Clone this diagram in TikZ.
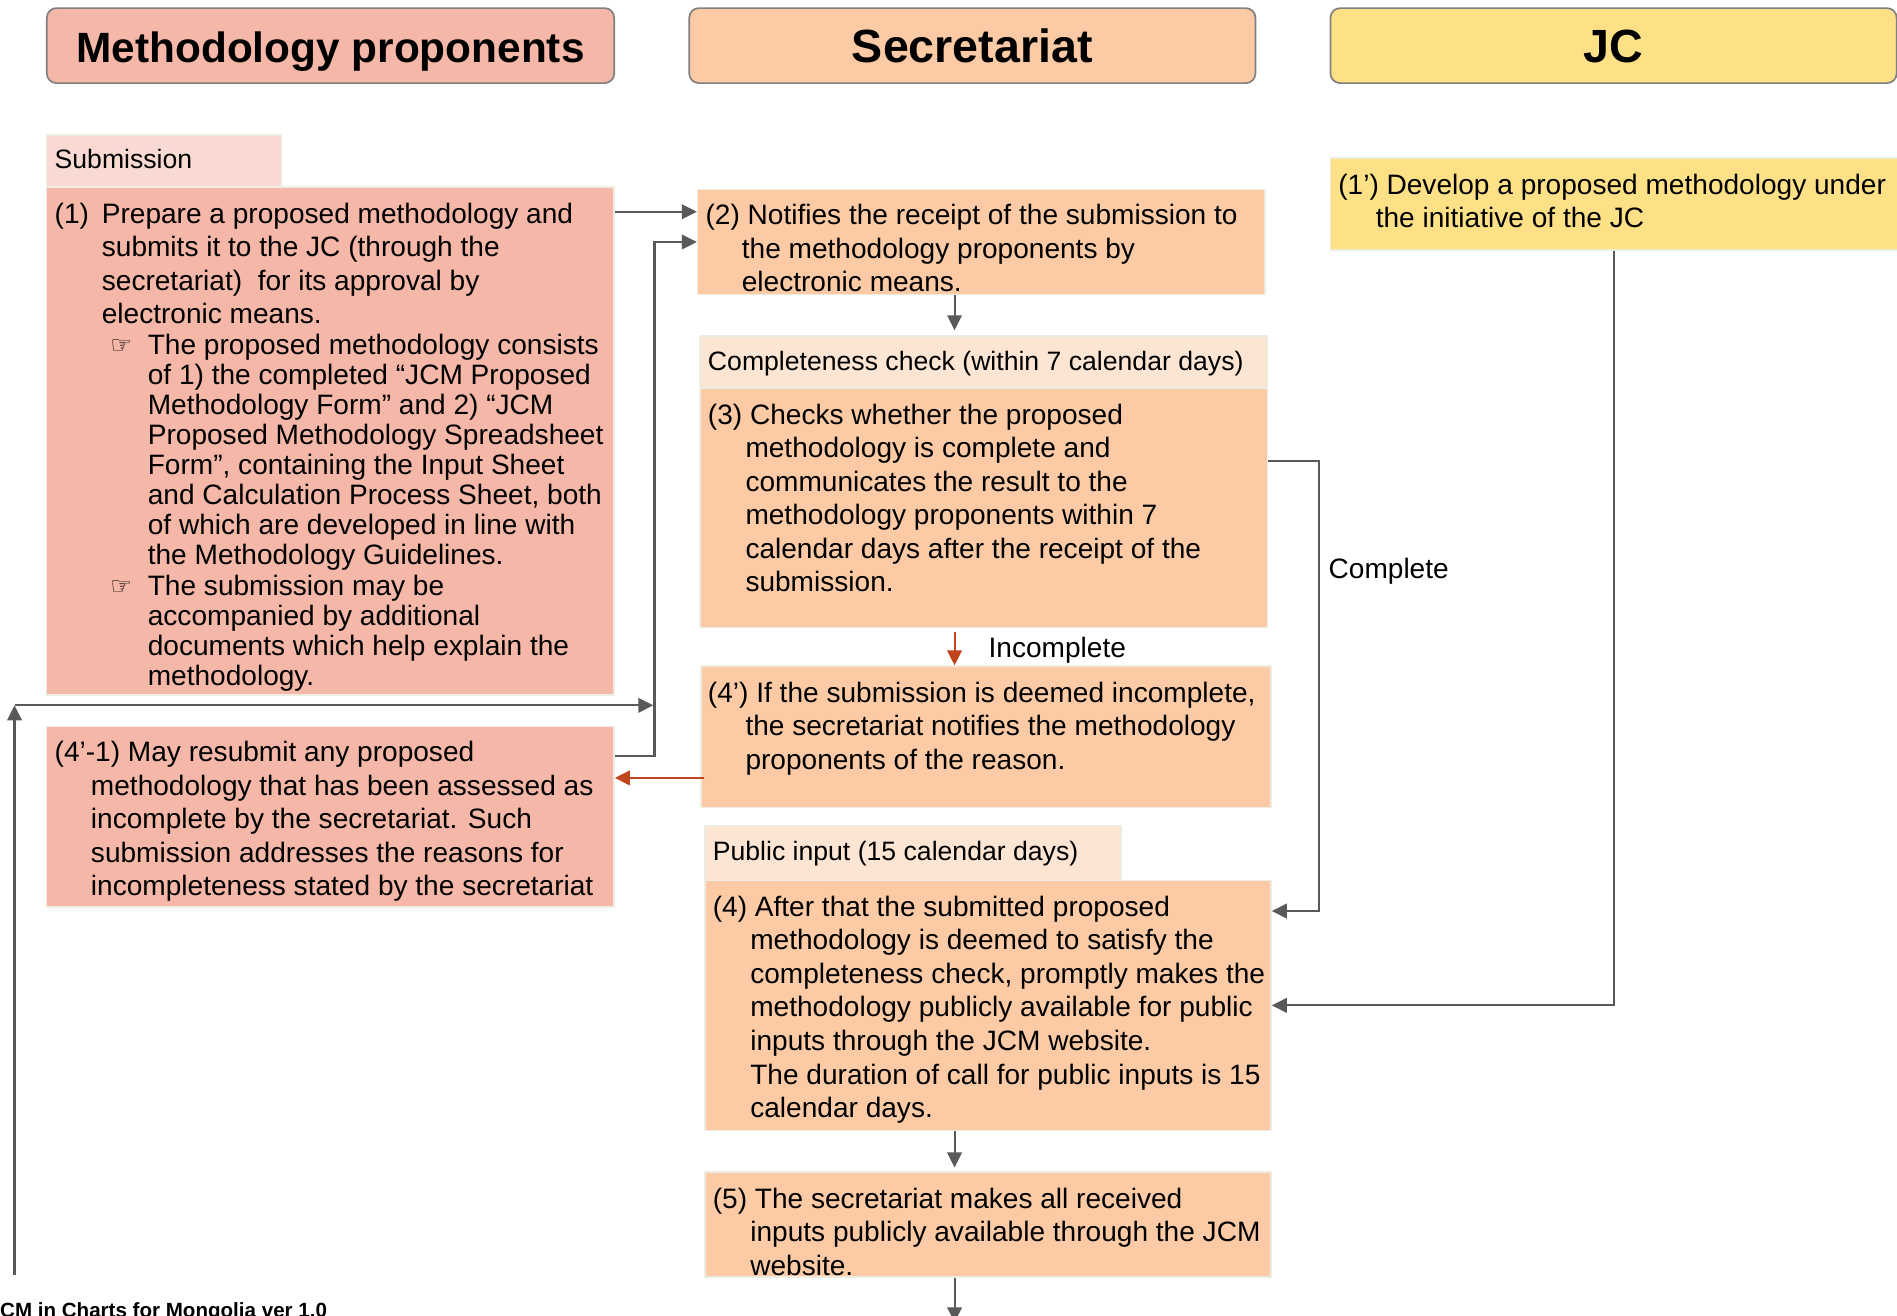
\documentclass[tikz,border=0pt]{standalone}
\usepackage{fontspec}
\setmainfont{Liberation Sans}
\newfontfamily\symfont{DejaVu Sans}
\usetikzlibrary{arrows.meta,calc}
\definecolor{salmon}{HTML}{F5B7A7}
\definecolor{salmonlt}{HTML}{F9DAD3}
\definecolor{peach}{HTML}{FCCBA6}
\definecolor{peachlt}{HTML}{FDE5D4}
\definecolor{jcyel}{HTML}{FEE086}
\definecolor{edgelt}{HTML}{EEEDE1}
\definecolor{linegray}{HTML}{595959}
\definecolor{hdrgray}{HTML}{808080}
\definecolor{redline}{HTML}{C0451F}
\newcommand{\bul}{{\symfont\fontsize{20pt}{20pt}\selectfont\raisebox{1pt}{☞}}}
\begin{document}
\begin{tikzpicture}[x=1pt,y=-1pt,
  hdr/.style={draw=hdrgray,line width=1.4pt,rounded corners=8pt,anchor=north west,
    minimum height=62pt,inner sep=0pt,text height=27.6pt,text depth=0pt},
  box/.style={draw=edgelt,line width=1.2pt,anchor=north west,inner sep=0pt},
  txt/.style={inner sep=0pt,anchor=base west,align=left,
    font=\fontsize{23.2pt}{27.7pt}\selectfont},
  bultxt/.style={txt,font=\fontsize{23.2pt}{24.8pt}\selectfont},
  lbl/.style={inner sep=0pt,anchor=base west,font=\fontsize{22pt}{26pt}\selectfont},
  arr/.style={draw=linegray,line width=1.7pt,-{Triangle[length=12.4pt,width=12pt]}},
  redarr/.style={draw=redline,line width=1.7pt,-{Triangle[length=12.4pt,width=12pt]}}
]
\useasboundingbox (0,0) rectangle (1568,1087);
\clip (0,0) rectangle (1568,1087);

% headers
\node[hdr,fill=salmon,minimum width=469pt,font=\bfseries\fontsize{35pt}{40pt}\selectfont] (h1) at (38,6) {Methodology proponents};
\node[hdr,fill=peach,minimum width=468pt,font=\bfseries\fontsize{38.5pt}{44pt}\selectfont] (h2) at (569,6) {Secretariat};
\node[hdr,fill=jcyel,minimum width=468pt,font=\bfseries\fontsize{38.5pt}{44pt}\selectfont] (h3) at (1099,6) {JC};

% boxes
\node[box,fill=salmon,minimum width=469pt,minimum height=420pt] (b1) at (38,154) {};
\node[box,fill=salmonlt,minimum width=194pt,minimum height=43pt] (lsub) at (38,111) {};
\node[box,fill=salmon,minimum width=469pt,minimum height=149pt] (b41) at (38,600) {};
\node[box,fill=peach,minimum width=469pt,minimum height=87pt] (b2) at (576,156) {};
\node[box,fill=peach,minimum width=469pt,minimum height=198pt] (b3) at (578,320) {};
\node[box,fill=peachlt,minimum width=469pt,minimum height=43pt] (lc) at (578,277) {};
\node[box,fill=peach,minimum width=471pt,minimum height=117pt] (b4p) at (579,550) {};
\node[box,fill=peach,minimum width=468pt,minimum height=207pt] (b4) at (582,727) {};
\node[box,fill=peachlt,minimum width=344pt,minimum height=45pt] (lp) at (582,682) {};
\node[box,fill=peach,minimum width=468pt,minimum height=87pt] (b5) at (582,968) {};
\node[box,fill=jcyel,minimum width=469pt,minimum height=76pt] (b1p) at (1099,130) {};

% labels
\node[lbl] (tsub) at (45,139) {Submission};
\node[lbl] (tlc) at (585,306) {Completeness check (within 7 calendar days)};
\node[lbl] (tlp) at (589,711) {Public input (15 calendar days)};

% texts (anchor = baseline of the last line)
\node[txt] (t1a) at (45,267.6) {\makebox[39pt][l]{(1)}Prepare a proposed methodology and\\
\hspace*{39pt}submits it to the JC (through the\\
\hspace*{39pt}secretariat)~ for its approval by\\
\hspace*{39pt}electronic means.};
\node[bultxt] (t1b) at (91,467.0) {\makebox[31pt][l]{\bul}The proposed methodology consists\\
\hspace*{31pt}of 1) the completed “JCM Proposed\\
\hspace*{31pt}Methodology Form” and 2) “JCM\\
\hspace*{31pt}Proposed Methodology Spreadsheet\\
\hspace*{31pt}Form”, containing the Input Sheet\\
\hspace*{31pt}and Calculation Process Sheet, both\\
\hspace*{31pt}of which are developed in line with\\
\hspace*{31pt}the Methodology Guidelines.};
\node[bultxt] (t1c) at (91,567.0) {\makebox[31pt][l]{\bul}The submission may be\\
\hspace*{31pt}accompanied by additional\\
\hspace*{31pt}documents which help explain the\\
\hspace*{31pt}methodology.};
\node[txt] (t41) at (45,740.3) {(4’-1) May resubmit any proposed\\
\hspace*{30pt}methodology that has been assessed as\\
\hspace*{30pt}incomplete by the secretariat. Such\\
\hspace*{30pt}submission addresses the reasons for\\
\hspace*{30pt}incompleteness stated by the secretariat};
\node[txt] (t2) at (583,241.0) {(2) Notifies the receipt of the submission to\\
\hspace*{30pt}the methodology proponents by\\
\hspace*{30pt}electronic means.};
\node[txt] (t3) at (585,489.0) {(3) Checks whether the proposed\\
\hspace*{31pt}methodology is complete and\\
\hspace*{31pt}communicates the result to the\\
\hspace*{31pt}methodology proponents within 7\\
\hspace*{31pt}calendar days after the receipt of the\\
\hspace*{31pt}submission.};
\node[txt] (t4p) at (585,635.9) {(4’) If the submission is deemed incomplete,\\
\hspace*{31pt}the secretariat notifies the methodology\\
\hspace*{31pt}proponents of the reason.};
\node[txt] (t4) at (589,923.7) {(4) After that the submitted proposed\\
\hspace*{31pt}methodology is deemed to satisfy the\\
\hspace*{31pt}completeness check, promptly makes the\\
\hspace*{31pt}methodology publicly available for public\\
\hspace*{31pt}inputs through the JCM website.\\
\hspace*{31pt}The duration of call for public inputs is 15\\
\hspace*{31pt}calendar days.};
\node[txt] (t5) at (589,1053.9) {(5) The secretariat makes all received\\
\hspace*{31pt}inputs publicly available through the JCM\\
\hspace*{31pt}website.};
\node[txt] (t1p) at (1106,188.2) {(1’) Develop a proposed methodology under\\
\hspace*{31pt}the initiative of the JC};

\node[txt] (tcomp) at (1098,478.5) {Complete};
\node[txt] (tinc) at (817,543.5) {Incomplete};

% footer
\node[inner sep=0pt,anchor=base west,font=\bfseries\fontsize{17pt}{20pt}\selectfont] (foot) at (-9.5,1089) {JCM in Charts for Mongolia ver 1.0};

% connectors
\draw[arr] ($(b1.north east)+(0,21)$) coordinate (p1) -- (p1 -| b2.west);
\draw[arr] ($(b41.north east)+(0,25)$) -| ($(b2.north west)+(-35,44)$) -- ($(b2.north west)+(0,44)$);
\coordinate (retB) at (12,1054);
\coordinate (retT) at (12,583);
\coordinate (retJ) at (540,583);
\draw[arr] (retB) -- (retT);
\draw[arr] (retT) -- (retJ);
\draw[arr,shorten >=4pt] ($(b2.south west)+(213,0)$) coordinate (p2) -- (p2 |- lc.north);
\draw[redarr,shorten <=3pt] ($(b3.south west)+(211,0)$) coordinate (p3) -- (p3 |- b4p.north);
\draw[redarr] ($(b4p.north west)+(3,93)$) coordinate (p4) -- (p4 -| b41.east);
\draw[arr] ($(b3.north east)+(0,61)$) -| ($(b4.north east)+(39,26)$) -- ($(b4.north east)+(0,26)$);
\draw[arr] (b1p.south) |- ($(b4.north east)+(0,104)$);
\draw[arr,shorten >=3pt] ($(b4.south west)+(207,0)$) coordinate (p5) -- (p5 |- b5.north);
\coordinate (offB) at (789,1093);
\draw[arr] ($(b5.south west)+(207,0)$) coordinate (p6) -- (p6 |- offB);
\end{tikzpicture}
\end{document}
